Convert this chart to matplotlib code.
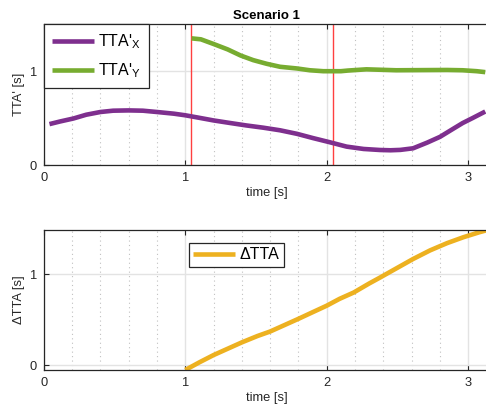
import matplotlib
matplotlib.use("Agg")
import matplotlib.pyplot as plt
from matplotlib.ticker import MultipleLocator

plt.rcParams['font.family'] = ['Liberation Sans', 'DejaVu Sans']

# ---- data ----
t_x = [0.04, 0.115, 0.21, 0.30, 0.40, 0.49, 0.60, 0.70, 0.80, 0.92, 1.00, 1.085, 1.20, 1.32,
       1.43, 1.55, 1.67, 1.79, 1.905, 2.02, 2.14, 2.26, 2.376, 2.45, 2.52, 2.61, 2.71, 2.80,
       2.89, 2.96, 3.03, 3.12]
tta_x = [0.436, 0.464, 0.496, 0.536, 0.565, 0.579, 0.582, 0.579, 0.565, 0.547, 0.53, 0.507,
         0.475, 0.447, 0.422, 0.398, 0.37, 0.332, 0.286, 0.243, 0.196, 0.171, 0.16, 0.157,
         0.161, 0.178, 0.239, 0.30, 0.383, 0.447, 0.50, 0.57]

t_y = [1.045, 1.11, 1.20, 1.30, 1.39, 1.48, 1.575, 1.67, 1.79, 1.88, 1.975, 2.02, 2.10, 2.15,
       2.28, 2.49, 2.85, 2.96, 3.06, 3.12]
tta_y = [1.35, 1.34, 1.29, 1.232, 1.168, 1.118, 1.079, 1.047, 1.029, 1.01, 1.0, 1.0, 1.0,
         1.007, 1.02, 1.01, 1.013, 1.01, 1.0, 0.99]

t_d = [1.0, 1.10, 1.2, 1.30, 1.4, 1.51, 1.6, 1.70, 1.8, 1.91, 2.0, 2.09, 2.19, 2.30, 2.376,
       2.49, 2.61, 2.73, 2.85, 2.965, 3.08, 3.125]
d_tta = [-0.055, 0.03, 0.11, 0.18, 0.25, 0.32, 0.37, 0.44, 0.51, 0.59, 0.655, 0.73, 0.80,
         0.90, 0.965, 1.065, 1.17, 1.265, 1.345, 1.41, 1.466, 1.485]

event_times = [1.042, 2.042]
x_ticks = [0, 1, 2, 3]

W, H = 486, 409
fig = plt.figure(figsize=(W / 100, H / 100), dpi=100)

left = 43.8 / W
width = 445.7 / W
ax1 = fig.add_axes([left, 1 - 165 / H, width, (165 - 24.3) / H])
ax2 = fig.add_axes([left, 1 - 370 / H, width, (370 - 230) / H])

spine_c = '#262626'
txt_c = '#262626'
FS = 9.3

for ax in (ax1, ax2):
    ax.set_xlim(0, 3.15)
    ax.set_xticks(x_ticks)
    ax.xaxis.set_minor_locator(MultipleLocator(0.2))
    ax.grid(True, which='major', color='#e3e3e3', lw=1.0, ls='-')
    ax.grid(True, which='minor', axis='x', color='#c0c0c0', lw=0.8, ls=(0, (1, 3)))
    ax.set_axisbelow(True)
    ax.tick_params(which='major', direction='in', length=3.5, width=0.8, colors=spine_c,
                   labelcolor=txt_c, labelsize=FS, top=True, right=False, pad=5)
    ax.tick_params(which='minor', length=0, top=False)
    for s in ('left', 'bottom', 'top'):
        ax.spines[s].set_color(spine_c)
        ax.spines[s].set_linewidth(0.9)
    ax.spines['right'].set_visible(False)
    ax.set_xlabel('time [s]', fontsize=FS, color=txt_c, labelpad=2)

# ---- top ----
ax1.set_ylim(0, 1.5)
ax1.set_yticks([0, 1])
for te in event_times:
    ax1.axvline(te, color='#ff4040', lw=1.0, zorder=1.5)
ax1.plot(t_x, tta_x, color='#7E2F8E', lw=3.3, solid_capstyle='butt',
         solid_joinstyle='round', label="TTA'$_\\mathregular{X}$")
ax1.plot(t_y, tta_y, color='#77AC30', lw=3.3, solid_capstyle='butt',
         solid_joinstyle='round', label="TTA'$_\\mathregular{Y}$")
ax1.set_ylabel("TTA' [s]", fontsize=FS, color=txt_c, labelpad=3)
ax1.set_title('Scenario 1', fontsize=9.5, fontweight='bold', color='black', pad=4)
leg1 = ax1.legend(loc='upper left', bbox_to_anchor=(0.0, 1.0), borderaxespad=0,
                  fontsize=11.5, handlelength=2.65, handletextpad=0.27, borderpad=0.5,
                  labelspacing=0.65, fancybox=False, framealpha=1, edgecolor=spine_c)
leg1.get_frame().set_linewidth(0.9)

# ---- bottom ----
ax2.set_ylim(-0.055, 1.49)
ax2.set_yticks([0, 1])
ax2.plot(t_d, d_tta, color='#EDB120', lw=3.3, solid_capstyle='butt',
         solid_joinstyle='round', label='ΔTTA')
ax2.set_ylabel('ΔTTA [s]', fontsize=FS, color=txt_c, labelpad=3)
leg2 = ax2.legend(loc='upper left', bbox_to_anchor=((189 - 43.8) / 445.7, (370 - 243) / 140),
                  borderaxespad=0, fontsize=11.5, handlelength=2.6, handletextpad=0.3,
                  borderpad=0.28, fancybox=False, framealpha=1, edgecolor=spine_c)
leg2.get_frame().set_linewidth(0.9)

fig.savefig('out.png', dpi=100)
